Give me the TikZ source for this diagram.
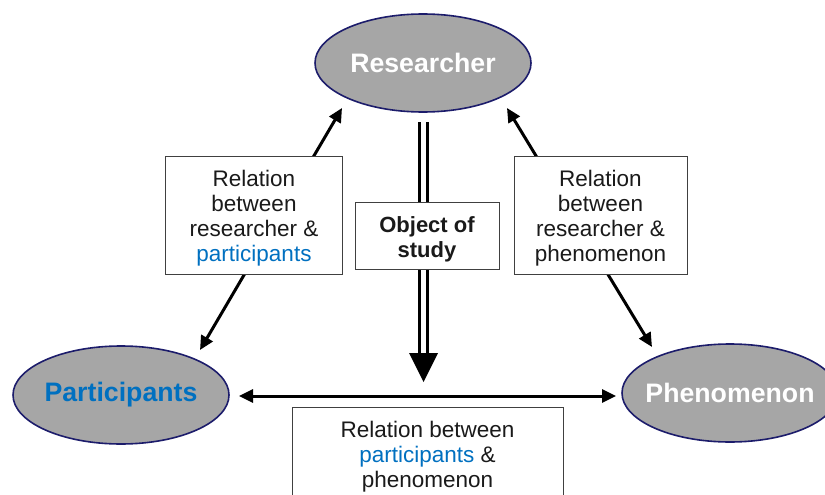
\documentclass[tikz,border=0pt]{standalone}
\usepackage{fontspec}
\setmainfont{Liberation Sans}
\usetikzlibrary{shapes.geometric,arrows.meta}
\definecolor{ovalfill}{HTML}{A6A6A6}
\definecolor{ovalline}{HTML}{1C1C6B}
\definecolor{hlblue}{HTML}{0070C0}
\definecolor{txt}{HTML}{1A1A1A}
% centred label of fixed width, so the ovals keep their size
\newcommand{\ovallabel}[1]{\makebox[120pt]{#1}}
\begin{document}
\begin{tikzpicture}[x=1pt,y=-1pt,
  actor/.style={ellipse, draw=ovalline, fill=ovalfill, line width=1.6pt,
    minimum width=216pt, minimum height=98pt, inner sep=0pt,
    font=\fontsize{26.7}{30}\selectfont\bfseries},
  relbox/.style={rectangle, draw=black!75, fill=white, line width=0.8pt,
    inner sep=0pt},
  reltext/.style={align=center, inner sep=0pt, text=txt,
    font=\fontsize{22.5}{25}\selectfont},
  link/.style={line width=3pt, {Triangle[length=14pt,width=13pt]}-{Triangle[length=14pt,width=13pt]}},
]
\useasboundingbox (0,0) rectangle (825,495);
\clip (0,0) rectangle (825,495);

% the three parties
\node[actor, text=white]  (res) at (423,63)  {\ovallabel{Researcher}};
\node[actor, text=hlblue] (par) at (121,395) {\ovallabel{Participants}};
\node[actor, text=white]  (phe) at (730,393) {\ovallabel{Phenomenon}};

% arrow end points
\coordinate (rpA) at (342,108);
\coordinate (rpB) at (200,350);
\coordinate (rhA) at (507,108);
\coordinate (rhB) at (652,347);
\coordinate (ppA) at (239,396);
\coordinate (ppB) at (616,396);
\coordinate (objA) at (423.5,122);
\coordinate (objB) at (423.5,355);

% relations
\draw[link] (rpA) -- (rpB);
\draw[link] (rhA) -- (rhB);
\draw[link] (ppA) -- (ppB);

% object of study: double shaft with a large head
\draw[double=white, double distance=5pt, line width=3pt] (objA) -- (objB);
\fill (409,353) -- (438,353) -- (423.5,382) -- cycle;

% label frames
\node[relbox, minimum width=177pt, minimum height=118pt] (rpl) at (254,215) {};
\node[relbox, minimum width=144pt, minimum height=67pt]  (obj) at (427,236) {};
\node[relbox, minimum width=173pt, minimum height=118pt] (rhl) at (600.5,215) {};
\node[relbox, minimum width=271pt, minimum height=96pt]  (ppl) at (427.5,455) {};

% label texts
\node[reltext] (rplt) at ([yshift=-3pt]rpl.center)
  {Relation\\between\\researcher \&\\\textcolor{hlblue}{participants}};
\node[reltext, font=\fontsize{22}{25}\selectfont\bfseries] (objt) at ([yshift=-3pt]obj.center)
  {Object of\\study};
\node[reltext] (rhlt) at ([yshift=-3pt]rhl.center)
  {Relation\\between\\researcher \&\\phenomenon};
\node[reltext] (pplt) at ([yshift=-2pt]ppl.center)
  {Relation between\\\textcolor{hlblue}{participants} \&\\phenomenon};
\end{tikzpicture}
\end{document}
